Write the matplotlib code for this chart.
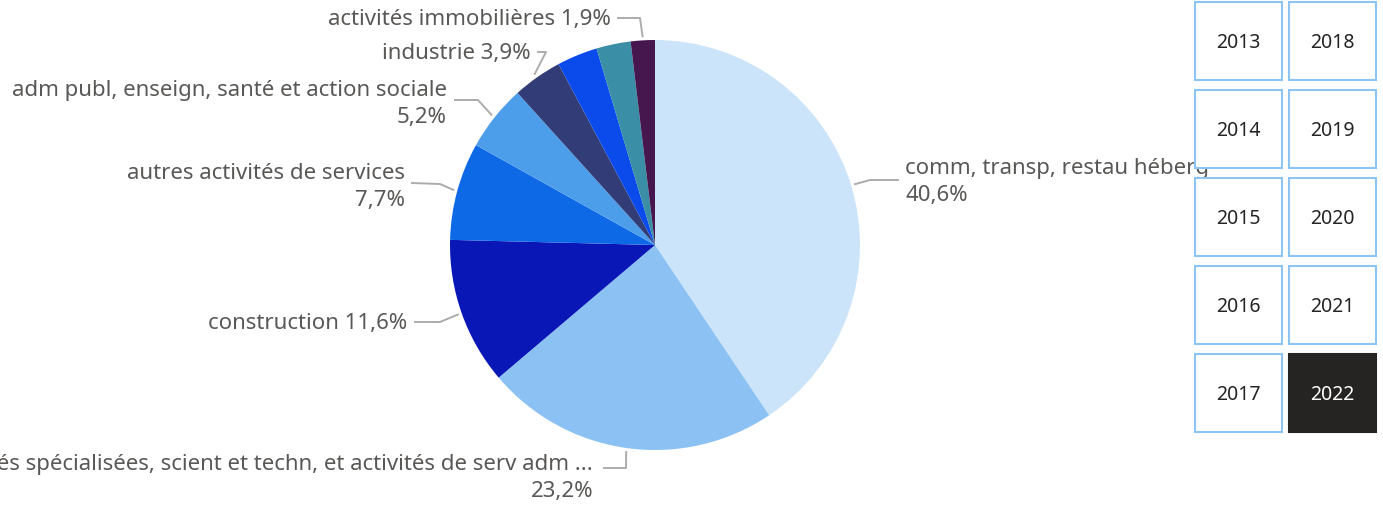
import numpy as np
import matplotlib
matplotlib.use('Agg')
import matplotlib.pyplot as plt
from matplotlib.patches import Rectangle

plt.rcParams['font.family'] = ['Noto Sans', 'DejaVu Sans']

# slices, clockwise from 12 o'clock
SECTORS = [
    "comm, transp, restau héberg",
    "activités spécialisées, scient et techn, et activités de serv adm ...",
    "construction",
    "autres activités de services",
    "adm publ, enseign, santé et action sociale",
    "industrie",
    "agriculture",
    "finance",
    "activités immobilières",
]
SHARES = [40.6, 23.2, 11.6, 7.7, 5.2, 3.9, 3.2, 2.7, 1.9]
SHOW_LABEL = [True, True, True, True, True, True, False, False, True]
COLORS = ['#CCE4F9', '#8BC2F3', '#0A17B7', '#0D69E6', '#4C9DEA',
          '#323D77', '#0B4BEC', '#3A8FA7', '#46174F']
YEARS = [2013, 2014, 2015, 2016, 2017, 2018, 2019, 2020, 2021, 2022]
SELECTED = 2022

W, H = 1383, 512
CX, CY, R = 655, 245, 205
TXT = '#5A5856'


def px(x, y):
    return (x - CX) / R, (CY - y) / R


# label layout (pixels): text anchor, alignment, leader line points after the wedge edge
LAYOUT = {
    0: dict(text=(905, 182), ha='left', path=[(870, 180), (898, 180)], wrap=True),
    1: dict(text=(593, 478), ha='right', path=[(626, 468), (604, 468)], wrap=True),
    2: dict(text=(407, 323), ha='right', path=[(440, 322), (415, 322)], wrap=False),
    3: dict(text=(405, 187), ha='right', path=[(440, 184), (412, 183)], wrap=True),
    4: dict(text=(447, 104), ha='right', path=[(478, 100), (455, 100)], wrap=True),
    5: dict(text=(531, 53), ha='right', path=[(546, 52), (538, 52)], wrap=False),
    8: dict(text=(611, 20), ha='right', path=[(640, 18), (618, 18)], wrap=False),
}

fig = plt.figure(figsize=(W / 100, H / 100), dpi=100)
ax = fig.add_axes([(CX - R) / W, (H - CY - R) / H, 2 * R / W, 2 * R / H])
wedges, _ = ax.pie(SHARES, colors=COLORS, startangle=90, counterclock=False,
                   radius=1.0, wedgeprops=dict(linewidth=0))
ax.set_xlim(-1, 1)
ax.set_ylim(-1, 1)
ax.set_aspect('auto')
ax.axis('off')

for i, w in enumerate(wedges):
    if not SHOW_LABEL[i]:
        continue
    lay = LAYOUT[i]
    mid = np.deg2rad((w.theta1 + w.theta2) / 2)
    start = (1.02 * np.cos(mid), 1.02 * np.sin(mid))
    pts = [start] + [px(*p) for p in lay['path']]
    xs, ys = zip(*pts)
    ax.plot(xs, ys, color='#AEACAA', lw=1.4, clip_on=False)
    pct = f"{SHARES[i]:.1f}%".replace('.', ',')
    s = f"{SECTORS[i]}\n{pct}" if lay['wrap'] else f"{SECTORS[i]} {pct}"
    tx, ty = px(*lay['text'])
    ax.text(tx, ty, s, ha=lay['ha'], va='center', multialignment=lay['ha'],
            color=TXT, fontsize=16, linespacing=1.38, clip_on=False)

# year slicer
sax = fig.add_axes([0, 0, 1, 1], zorder=5)
sax.set_xlim(0, W)
sax.set_ylim(H, 0)
sax.axis('off')
sax.patch.set_alpha(0)
for k, yr in enumerate(YEARS):
    col, row = divmod(k, 5)
    x0 = 1195 + col * 94
    y0 = 2 + row * 88
    sel = yr == SELECTED
    sax.add_patch(Rectangle((x0, y0), 87, 78, facecolor='#252423' if sel else 'white',
                            edgecolor='#252423' if sel else '#8CC4F4', lw=1.5))
    sax.text(x0 + 43.5, y0 + 41, str(yr), ha='center', va='center', fontsize=14,
             color='white' if sel else '#252423')

fig.savefig('out.png', dpi=100)
